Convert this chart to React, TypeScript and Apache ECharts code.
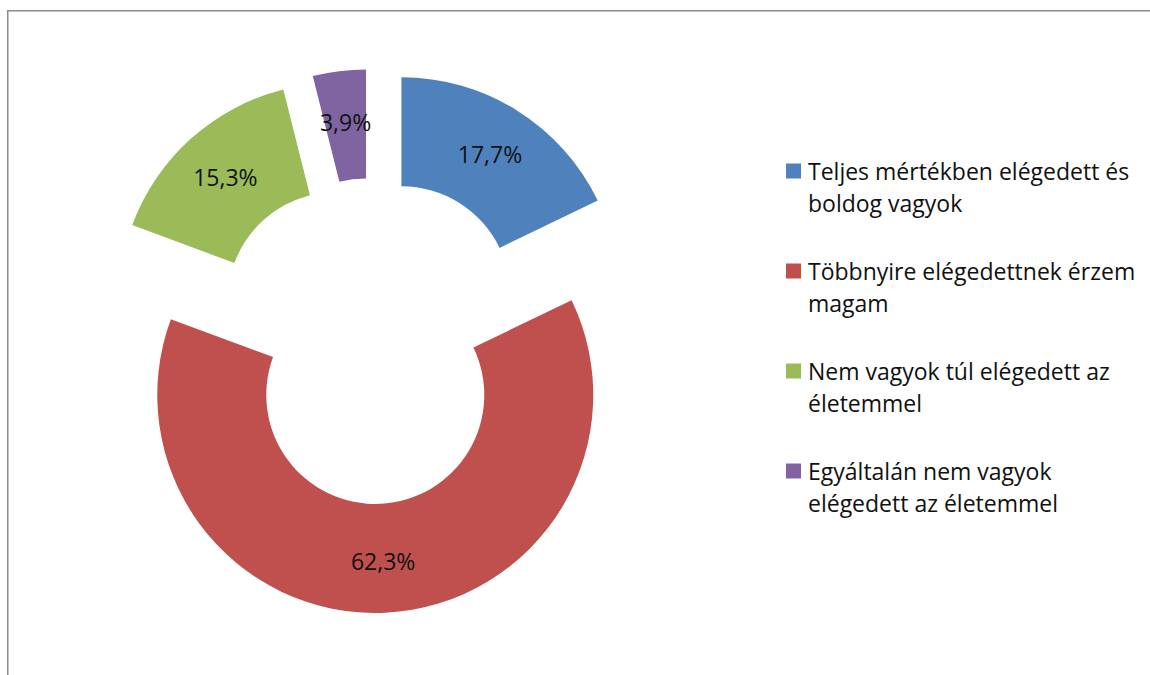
import React, { useEffect, useRef } from "react";
import * as echarts from "echarts";

const categories = [
  "Teljes mértékben elégedett és boldog vagyok",
  "Többnyire elégedettnek érzem magam",
  "Nem vagyok túl elégedett az életemmel",
  "Egyáltalán nem vagyok elégedett az életemmel",
];
const legendLines = [
  "Teljes mértékben elégedett és\nboldog vagyok",
  "Többnyire elégedettnek érzem\nmagam",
  "Nem vagyok túl elégedett az\néletemmel",
  "Egyáltalán nem vagyok\nelégedett az életemmel",
];
const values = [17.7, 62.3, 15.3, 3.9];
const colors = ["#4F81BD", "#C0504D", "#9BBB59", "#8064A2"];

const FONT = "'Open Sans', 'Noto Sans', sans-serif";

export default function App() {
  const ref = useRef<HTMLDivElement>(null);
  useEffect(() => {
    if (!ref.current) return;
    const chart = echarts.init(ref.current, undefined, { renderer: "svg" });
    chart.setOption({
      animation: false,
      backgroundColor: "#ffffff",
      graphic: [
        {
          type: "rect",
          shape: { x: 7.75, y: 10.75, width: 2000, height: 2000 },
          style: { fill: "none", stroke: "#8a8a8a", lineWidth: 1.5 },
          silent: true,
          z: 0,
        },
      ],
      legend: {
        orient: "vertical",
        left: 781,
        top: 150,
        itemGap: 36,
        itemWidth: 15,
        itemHeight: 64,
        icon: "path://M0,0h0.01v0.01h-0.01z M0,8.5h15v15h-15z M0,63.99h0.01v0.01h-0.01z",
        selectedMode: false,
        data: categories,
        formatter: (name: string) => legendLines[categories.indexOf(name)],
        textStyle: {
          fontFamily: FONT,
          fontSize: 23,
          lineHeight: 32,
          color: "#111111",
          padding: [0, 0, 0, 2],
        },
      },
      series: [
        {
          type: "pie",
          center: [372.7, 341],
          radius: [109, 218],
          startAngle: 90,
          clockwise: true,
          selectedMode: "multiple",
          selectedOffset: 54,
          emphasis: { disabled: true },
          labelLine: { show: false },
          label: {
            show: true,
            position: "inside",
            fontFamily: FONT,
            fontSize: 23,
            color: "#111111",
            formatter: (p: any) => String(p.value.toFixed(1)).replace(".", ",") + "%",
          },
          data: categories.map((name, i) => ({
            name,
            value: values[i],
            selected: true,
            itemStyle: { color: colors[i] },
          })),
        },
      ],
    });
    return () => chart.dispose();
  }, []);
  return (
    <div
      ref={ref}
      style={{ position: "fixed", left: 0, top: 0, width: 1150, height: 675 }}
    />
  );
}
